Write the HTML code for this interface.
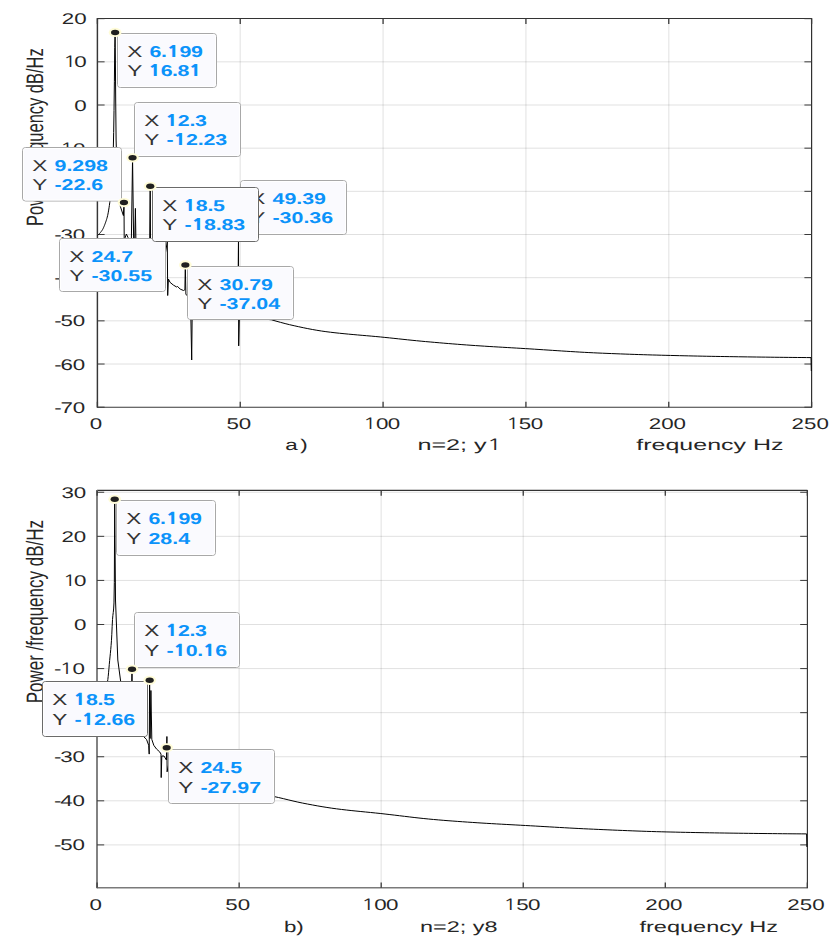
<!DOCTYPE html>
<html><head><meta charset="utf-8"><title>PSD plots</title>
<style>html,body{margin:0;padding:0;background:#fff;} svg{display:block;} text{font-family:'Liberation Sans', Arial, sans-serif;text-rendering:geometricPrecision;}</style>
</head><body>
<svg width="840" height="952" viewBox="0 0 840 952">
<rect width="840" height="952" fill="#fff"/>
<line x1="240.24" y1="18.50" x2="240.24" y2="407.20" stroke="#000" stroke-opacity="0.085" stroke-width="1.4"/>
<line x1="383.08" y1="18.50" x2="383.08" y2="407.20" stroke="#000" stroke-opacity="0.085" stroke-width="1.4"/>
<line x1="525.92" y1="18.50" x2="525.92" y2="407.20" stroke="#000" stroke-opacity="0.085" stroke-width="1.4"/>
<line x1="668.76" y1="18.50" x2="668.76" y2="407.20" stroke="#000" stroke-opacity="0.085" stroke-width="1.4"/>
<line x1="97.40" y1="61.83" x2="811.60" y2="61.83" stroke="#000" stroke-opacity="0.12" stroke-width="1"/>
<line x1="97.40" y1="105.00" x2="811.60" y2="105.00" stroke="#000" stroke-opacity="0.12" stroke-width="1"/>
<line x1="97.40" y1="148.17" x2="811.60" y2="148.17" stroke="#000" stroke-opacity="0.12" stroke-width="1"/>
<line x1="97.40" y1="191.34" x2="811.60" y2="191.34" stroke="#000" stroke-opacity="0.12" stroke-width="1"/>
<line x1="97.40" y1="234.51" x2="811.60" y2="234.51" stroke="#000" stroke-opacity="0.12" stroke-width="1"/>
<line x1="97.40" y1="277.68" x2="811.60" y2="277.68" stroke="#000" stroke-opacity="0.12" stroke-width="1"/>
<line x1="97.40" y1="320.85" x2="811.60" y2="320.85" stroke="#000" stroke-opacity="0.12" stroke-width="1"/>
<line x1="97.40" y1="364.02" x2="811.60" y2="364.02" stroke="#000" stroke-opacity="0.12" stroke-width="1"/>
<line x1="97.40" y1="18.50" x2="811.60" y2="18.50" stroke="#333333" stroke-width="1.1"/>
<line x1="97.40" y1="407.20" x2="811.60" y2="407.20" stroke="#383838" stroke-width="1.05"/>
<line x1="97.40" y1="18.00" x2="97.40" y2="407.70" stroke="#363636" stroke-width="1.45"/>
<line x1="811.60" y1="18.00" x2="811.60" y2="407.70" stroke="#303030" stroke-width="1.2"/>
<line x1="97.40" y1="18.50" x2="97.40" y2="23.90" stroke="#3a3a3a" stroke-width="1.3"/>
<line x1="97.40" y1="401.80" x2="97.40" y2="407.20" stroke="#3a3a3a" stroke-width="1.3"/>
<line x1="240.24" y1="18.50" x2="240.24" y2="23.90" stroke="#3a3a3a" stroke-width="1.3"/>
<line x1="240.24" y1="401.80" x2="240.24" y2="407.20" stroke="#3a3a3a" stroke-width="1.3"/>
<line x1="383.08" y1="18.50" x2="383.08" y2="23.90" stroke="#3a3a3a" stroke-width="1.3"/>
<line x1="383.08" y1="401.80" x2="383.08" y2="407.20" stroke="#3a3a3a" stroke-width="1.3"/>
<line x1="525.92" y1="18.50" x2="525.92" y2="23.90" stroke="#3a3a3a" stroke-width="1.3"/>
<line x1="525.92" y1="401.80" x2="525.92" y2="407.20" stroke="#3a3a3a" stroke-width="1.3"/>
<line x1="668.76" y1="18.50" x2="668.76" y2="23.90" stroke="#3a3a3a" stroke-width="1.3"/>
<line x1="668.76" y1="401.80" x2="668.76" y2="407.20" stroke="#3a3a3a" stroke-width="1.3"/>
<line x1="811.60" y1="18.50" x2="811.60" y2="23.90" stroke="#3a3a3a" stroke-width="1.3"/>
<line x1="811.60" y1="401.80" x2="811.60" y2="407.20" stroke="#3a3a3a" stroke-width="1.3"/>
<line x1="97.40" y1="18.66" x2="104.60" y2="18.66" stroke="#3a3a3a" stroke-width="1.0"/>
<line x1="804.40" y1="18.66" x2="811.60" y2="18.66" stroke="#3a3a3a" stroke-width="1.0"/>
<line x1="97.40" y1="61.83" x2="104.60" y2="61.83" stroke="#3a3a3a" stroke-width="1.0"/>
<line x1="804.40" y1="61.83" x2="811.60" y2="61.83" stroke="#3a3a3a" stroke-width="1.0"/>
<line x1="97.40" y1="105.00" x2="104.60" y2="105.00" stroke="#3a3a3a" stroke-width="1.0"/>
<line x1="804.40" y1="105.00" x2="811.60" y2="105.00" stroke="#3a3a3a" stroke-width="1.0"/>
<line x1="97.40" y1="148.17" x2="104.60" y2="148.17" stroke="#3a3a3a" stroke-width="1.0"/>
<line x1="804.40" y1="148.17" x2="811.60" y2="148.17" stroke="#3a3a3a" stroke-width="1.0"/>
<line x1="97.40" y1="191.34" x2="104.60" y2="191.34" stroke="#3a3a3a" stroke-width="1.0"/>
<line x1="804.40" y1="191.34" x2="811.60" y2="191.34" stroke="#3a3a3a" stroke-width="1.0"/>
<line x1="97.40" y1="234.51" x2="104.60" y2="234.51" stroke="#3a3a3a" stroke-width="1.0"/>
<line x1="804.40" y1="234.51" x2="811.60" y2="234.51" stroke="#3a3a3a" stroke-width="1.0"/>
<line x1="97.40" y1="277.68" x2="104.60" y2="277.68" stroke="#3a3a3a" stroke-width="1.0"/>
<line x1="804.40" y1="277.68" x2="811.60" y2="277.68" stroke="#3a3a3a" stroke-width="1.0"/>
<line x1="97.40" y1="320.85" x2="104.60" y2="320.85" stroke="#3a3a3a" stroke-width="1.0"/>
<line x1="804.40" y1="320.85" x2="811.60" y2="320.85" stroke="#3a3a3a" stroke-width="1.0"/>
<line x1="97.40" y1="364.02" x2="104.60" y2="364.02" stroke="#3a3a3a" stroke-width="1.0"/>
<line x1="804.40" y1="364.02" x2="811.60" y2="364.02" stroke="#3a3a3a" stroke-width="1.0"/>
<line x1="97.40" y1="407.19" x2="104.60" y2="407.19" stroke="#3a3a3a" stroke-width="1.0"/>
<line x1="804.40" y1="407.19" x2="811.60" y2="407.19" stroke="#3a3a3a" stroke-width="1.0"/>
<text transform="translate(43.00,137.10) rotate(-90) scale(1,1.53)" font-size="15.5" text-anchor="middle" fill="#262626" textLength="177.6" lengthAdjust="spacingAndGlyphs">Power /frequency dB/Hz</text>
<text transform="translate(86.60,24.26) scale(1.44,1)" font-size="15.5" text-anchor="end" fill="#262626">20</text>
<text transform="translate(86.60,67.43) scale(1.44,1)" font-size="15.5" text-anchor="end" fill="#262626" textLength="16.44" lengthAdjust="spacing"><tspan font-family="NanumGothic, 'Liberation Sans', sans-serif">1</tspan>0</text>
<text transform="translate(86.60,110.60) scale(1.44,1)" font-size="15.5" text-anchor="end" fill="#262626">0</text>
<text transform="translate(85.30,153.77) scale(1.44,1)" font-size="15.5" text-anchor="end" fill="#262626" textLength="21.60" lengthAdjust="spacing">-<tspan dx="-0.80"><tspan font-family="NanumGothic, 'Liberation Sans', sans-serif">1</tspan>0</tspan></text>
<text transform="translate(85.30,196.94) scale(1.44,1)" font-size="15.5" text-anchor="end" fill="#262626">-<tspan dx="-0.80">20</tspan></text>
<text transform="translate(85.30,240.11) scale(1.44,1)" font-size="15.5" text-anchor="end" fill="#262626">-<tspan dx="-0.80">30</tspan></text>
<text transform="translate(85.30,283.28) scale(1.44,1)" font-size="15.5" text-anchor="end" fill="#262626">-<tspan dx="-0.80">40</tspan></text>
<text transform="translate(85.30,326.45) scale(1.44,1)" font-size="15.5" text-anchor="end" fill="#262626">-<tspan dx="-0.80">50</tspan></text>
<text transform="translate(85.30,369.62) scale(1.44,1)" font-size="15.5" text-anchor="end" fill="#262626">-<tspan dx="-0.80">60</tspan></text>
<text transform="translate(85.30,412.79) scale(1.44,1)" font-size="15.5" text-anchor="end" fill="#262626">-<tspan dx="-0.80">70</tspan></text>
<text transform="translate(96.00,429.00) scale(1.44,1)" font-size="15.5" text-anchor="middle" fill="#262626">0</text>
<text transform="translate(238.84,429.00) scale(1.44,1)" font-size="15.5" text-anchor="middle" fill="#262626">50</text>
<text transform="translate(381.68,429.00) scale(1.44,1)" font-size="15.5" text-anchor="middle" fill="#262626" textLength="25.86" lengthAdjust="spacing"><tspan font-family="NanumGothic, 'Liberation Sans', sans-serif">1</tspan>00</text>
<text transform="translate(524.52,429.00) scale(1.44,1)" font-size="15.5" text-anchor="middle" fill="#262626" textLength="25.86" lengthAdjust="spacing"><tspan font-family="NanumGothic, 'Liberation Sans', sans-serif">1</tspan>50</text>
<text transform="translate(667.36,429.00) scale(1.44,1)" font-size="15.5" text-anchor="middle" fill="#262626">200</text>
<text transform="translate(810.20,429.00) scale(1.44,1)" font-size="15.5" text-anchor="middle" fill="#262626">250</text>
<text transform="translate(285.20,449.80) scale(1.44,1)" font-size="15.5" fill="#262626" textLength="15.69" lengthAdjust="spacing">a)</text>
<text transform="translate(417.40,449.90) scale(1.44,1)" font-size="15.5" fill="#262626" textLength="58.75" lengthAdjust="spacingAndGlyphs">n=2; y<tspan font-family="NanumGothic, 'Liberation Sans', sans-serif">1</tspan></text>
<text transform="translate(636.30,449.50) scale(1.44,1)" font-size="15.5" fill="#262626" textLength="102.22" lengthAdjust="spacingAndGlyphs">frequency Hz</text>
<path d="M97.60,235.50 L97.96,235.17 L98.31,234.83 L98.67,234.47 L99.03,234.09 L99.39,233.70 L99.74,233.30 L100.10,232.88 L100.46,232.46 L100.81,232.03 L101.17,231.59 L101.53,231.12 L101.89,230.62 L102.24,230.08 L102.60,229.50 L102.96,228.85 L103.31,228.13 L103.67,227.34 L104.03,226.49 L104.39,225.60 L104.74,224.68 L105.10,223.73 L105.46,222.77 L105.81,221.79 L106.17,220.75 L106.53,219.64 L106.89,218.45 L107.24,217.14 L107.60,215.70 L107.96,214.06 L108.31,212.19 L108.67,210.10 L109.03,207.82 L109.39,205.37 L109.74,202.76 L110.10,200.02 L110.46,197.05 L110.81,193.76 L111.17,190.07 L111.53,185.90 L111.89,180.98 L112.24,174.97 L112.60,168.00 L112.96,160.04 L113.31,149.50 L113.67,132.40 L114.03,110.52 L114.39,81.77 L114.74,47.41 L115.10,32.40 L115.40,60.00 L115.70,100.00 L116.10,140.00 L116.80,165.00 L118.00,185.00 L119.40,199.00 L120.40,206.60 L123.40,215.60 L124.00,202.60 L124.20,237.80 L124.80,238.50 L126.40,234.00 L128.00,237.50 L129.50,240.00 L131.40,238.00 L132.55,157.90 L133.60,238.00 L134.60,246.00 L135.40,208.40 L136.00,246.00 L140.00,252.00 L146.00,248.00 L149.70,240.00 L150.20,186.30 L150.50,240.00 L152.00,246.00 L158.00,250.00 L164.00,262.00 L167.30,241.50 L167.70,295.50 L168.40,279.00 L170.10,282.40 L173.40,285.10 L176.80,287.10 L177.50,286.40 L180.20,289.10 L183.50,290.50 L184.90,289.80 L185.30,265.10 L185.90,294.50 L188.00,296.00 L190.50,300.00 L191.70,360.00 L192.30,302.00 L210.00,306.50 L230.00,312.00 L237.80,314.20 L238.50,236.00 L238.70,345.90 L239.40,316.00 L255.00,318.00 L271.50,319.80 L276.03,321.11 L280.57,322.37 L285.10,323.57 L289.63,324.69 L294.17,325.73 L298.70,326.72 L303.24,327.69 L307.77,328.61 L312.30,329.48 L316.84,330.28 L321.37,331.01 L325.90,331.65 L330.44,332.23 L334.97,332.75 L339.50,333.24 L344.04,333.70 L348.57,334.13 L353.11,334.54 L357.64,334.94 L362.17,335.33 L366.71,335.72 L371.24,336.12 L375.77,336.53 L380.31,336.95 L384.84,337.41 L389.37,337.87 L393.91,338.35 L398.44,338.83 L402.97,339.32 L407.51,339.80 L412.04,340.27 L416.58,340.72 L421.11,341.16 L425.64,341.58 L430.18,341.98 L434.71,342.38 L439.24,342.78 L443.78,343.16 L448.31,343.54 L452.84,343.90 L457.38,344.26 L461.91,344.61 L466.45,344.94 L470.98,345.27 L475.51,345.59 L480.05,345.89 L484.58,346.18 L489.11,346.47 L493.65,346.74 L498.18,347.01 L502.71,347.28 L507.25,347.54 L511.78,347.81 L516.32,348.07 L520.85,348.34 L525.38,348.61 L529.92,348.89 L534.45,349.18 L538.98,349.47 L543.52,349.77 L548.05,350.07 L552.58,350.37 L557.12,350.67 L561.65,350.96 L566.18,351.25 L570.72,351.54 L575.25,351.81 L579.79,352.08 L584.32,352.33 L588.85,352.57 L593.39,352.79 L597.92,353.00 L602.45,353.20 L606.99,353.38 L611.52,353.57 L616.05,353.74 L620.59,353.92 L625.12,354.08 L629.66,354.24 L634.19,354.40 L638.72,354.55 L643.26,354.69 L647.79,354.83 L652.32,354.97 L656.86,355.09 L661.39,355.22 L665.92,355.34 L670.46,355.45 L674.99,355.56 L679.53,355.67 L684.06,355.77 L688.59,355.87 L693.13,355.97 L697.66,356.07 L702.19,356.16 L706.73,356.25 L711.26,356.33 L715.79,356.41 L720.33,356.49 L724.86,356.56 L729.39,356.64 L733.93,356.70 L738.46,356.77 L743.00,356.84 L747.53,356.90 L752.06,356.96 L756.60,357.03 L761.13,357.08 L765.66,357.14 L770.20,357.20 L774.73,357.25 L779.26,357.31 L783.80,357.35 L788.33,357.40 L792.87,357.45 L797.40,357.49 L801.93,357.53 L806.47,357.57 L811.00,357.60 L811.30,371.00" fill="none" stroke="#000" stroke-width="1.0" stroke-linejoin="round"/>
<rect x="117.50" y="33.50" width="99.00" height="54.00" rx="3" ry="3" fill="#fafafe" stroke="#a8a8a8" stroke-width="1"/>
<rect x="118.50" y="34.50" width="97.00" height="52.00" rx="2" ry="2" fill="none" stroke="#ffffff" stroke-width="1"/>
<text transform="translate(127.30,56.50) scale(1.45,1)" font-size="15.6" fill="#333333">X</text>
<text transform="translate(127.30,75.60) scale(1.45,1)" font-size="15.6" fill="#333333">Y</text>
<text transform="translate(149.50,56.50) scale(1.37,1)" font-size="15.6" fill="#0b93fa" font-weight="bold" textLength="39.04" lengthAdjust="spacing">6.<tspan font-family="NanumGothic, 'Liberation Sans', sans-serif" font-weight="800">1</tspan>99</text>
<text transform="translate(148.30,75.60) scale(1.37,1)" font-size="15.6" fill="#0b93fa" font-weight="bold" textLength="39.04" lengthAdjust="spacing"><tspan font-family="NanumGothic, 'Liberation Sans', sans-serif" font-weight="800">1</tspan>6.8<tspan font-family="NanumGothic, 'Liberation Sans', sans-serif" font-weight="800">1</tspan></text>
<ellipse cx="115.11" cy="32.43" rx="6.4" ry="4.6" fill="#fffcd8"/>
<ellipse cx="115.11" cy="32.43" rx="4.1" ry="2.75" fill="#202020"/>
<rect x="134.50" y="102.50" width="106.00" height="54.00" rx="3" ry="3" fill="#fafafe" stroke="#a8a8a8" stroke-width="1"/>
<rect x="135.50" y="103.50" width="104.00" height="52.00" rx="2" ry="2" fill="none" stroke="#ffffff" stroke-width="1"/>
<text transform="translate(144.30,125.50) scale(1.45,1)" font-size="15.6" fill="#333333">X</text>
<text transform="translate(144.30,144.60) scale(1.45,1)" font-size="15.6" fill="#333333">Y</text>
<text transform="translate(165.30,125.50) scale(1.37,1)" font-size="15.6" fill="#0b93fa" font-weight="bold" textLength="30.36" lengthAdjust="spacing"><tspan font-family="NanumGothic, 'Liberation Sans', sans-serif" font-weight="800">1</tspan>2.3</text>
<text transform="translate(166.50,144.60) scale(1.37,1)" font-size="15.6" fill="#0b93fa" font-weight="bold" textLength="44.23" lengthAdjust="spacing">-<tspan font-family="NanumGothic, 'Liberation Sans', sans-serif" font-weight="800">1</tspan>2.23</text>
<ellipse cx="132.54" cy="157.80" rx="6.4" ry="4.6" fill="#fffcd8"/>
<ellipse cx="132.54" cy="157.80" rx="4.1" ry="2.75" fill="#202020"/>
<rect x="22.50" y="147.50" width="99.00" height="53.50" rx="3" ry="3" fill="#fafafe" stroke="#a8a8a8" stroke-width="1"/>
<rect x="23.50" y="148.50" width="97.00" height="51.50" rx="2" ry="2" fill="none" stroke="#ffffff" stroke-width="1"/>
<text transform="translate(32.30,170.50) scale(1.45,1)" font-size="15.6" fill="#333333">X</text>
<text transform="translate(32.30,189.60) scale(1.45,1)" font-size="15.6" fill="#333333">Y</text>
<text transform="translate(54.50,170.50) scale(1.37,1)" font-size="15.6" fill="#0b93fa" font-weight="bold">9.298</text>
<text transform="translate(54.50,189.60) scale(1.37,1)" font-size="15.6" fill="#0b93fa" font-weight="bold">-22.6</text>
<ellipse cx="123.96" cy="202.56" rx="6.4" ry="4.6" fill="#fffcd8"/>
<ellipse cx="123.96" cy="202.56" rx="4.1" ry="2.75" fill="#202020"/>
<rect x="240.50" y="180.50" width="106.00" height="54.00" rx="3" ry="3" fill="#fafafe" stroke="#a8a8a8" stroke-width="1"/>
<rect x="241.50" y="181.50" width="104.00" height="52.00" rx="2" ry="2" fill="none" stroke="#ffffff" stroke-width="1"/>
<text transform="translate(250.30,203.50) scale(1.45,1)" font-size="15.6" fill="#333333">X</text>
<text transform="translate(250.30,222.60) scale(1.45,1)" font-size="15.6" fill="#333333">Y</text>
<text transform="translate(272.50,203.50) scale(1.37,1)" font-size="15.6" fill="#0b93fa" font-weight="bold">49.39</text>
<text transform="translate(272.50,222.60) scale(1.37,1)" font-size="15.6" fill="#0b93fa" font-weight="bold">-30.36</text>
<ellipse cx="238.50" cy="236.06" rx="6.4" ry="4.6" fill="#fffcd8"/>
<ellipse cx="238.50" cy="236.06" rx="4.1" ry="2.75" fill="#202020"/>
<rect x="59.50" y="238.50" width="106.00" height="53.00" rx="3" ry="3" fill="#fafafe" stroke="#a8a8a8" stroke-width="1"/>
<rect x="60.50" y="239.50" width="104.00" height="51.00" rx="2" ry="2" fill="none" stroke="#ffffff" stroke-width="1"/>
<text transform="translate(69.30,261.50) scale(1.45,1)" font-size="15.6" fill="#333333">X</text>
<text transform="translate(69.30,280.60) scale(1.45,1)" font-size="15.6" fill="#333333">Y</text>
<text transform="translate(91.50,261.50) scale(1.37,1)" font-size="15.6" fill="#0b93fa" font-weight="bold">24.7</text>
<text transform="translate(91.50,280.60) scale(1.37,1)" font-size="15.6" fill="#0b93fa" font-weight="bold">-30.55</text>
<ellipse cx="167.96" cy="236.88" rx="6.4" ry="4.6" fill="#fffcd8"/>
<ellipse cx="167.96" cy="236.88" rx="4.1" ry="2.75" fill="#202020"/>
<rect x="152.50" y="187.50" width="106.00" height="54.00" rx="3" ry="3" fill="#fafafe" stroke="#6a6a6a" stroke-width="1"/>
<rect x="153.50" y="188.50" width="104.00" height="52.00" rx="2" ry="2" fill="none" stroke="#ffffff" stroke-width="1"/>
<text transform="translate(162.30,210.50) scale(1.45,1)" font-size="15.6" fill="#333333">X</text>
<text transform="translate(162.30,229.60) scale(1.45,1)" font-size="15.6" fill="#333333">Y</text>
<text transform="translate(183.30,210.50) scale(1.37,1)" font-size="15.6" fill="#0b93fa" font-weight="bold" textLength="30.36" lengthAdjust="spacing"><tspan font-family="NanumGothic, 'Liberation Sans', sans-serif" font-weight="800">1</tspan>8.5</text>
<text transform="translate(184.50,229.60) scale(1.37,1)" font-size="15.6" fill="#0b93fa" font-weight="bold" textLength="44.23" lengthAdjust="spacing">-<tspan font-family="NanumGothic, 'Liberation Sans', sans-serif" font-weight="800">1</tspan>8.83</text>
<ellipse cx="150.25" cy="186.29" rx="6.4" ry="4.6" fill="#fffcd8"/>
<ellipse cx="150.25" cy="186.29" rx="4.1" ry="2.75" fill="#202020"/>
<rect x="187.50" y="266.50" width="106.00" height="53.00" rx="3" ry="3" fill="#fafafe" stroke="#a8a8a8" stroke-width="1"/>
<rect x="188.50" y="267.50" width="104.00" height="51.00" rx="2" ry="2" fill="none" stroke="#ffffff" stroke-width="1"/>
<text transform="translate(197.30,289.50) scale(1.45,1)" font-size="15.6" fill="#333333">X</text>
<text transform="translate(197.30,308.60) scale(1.45,1)" font-size="15.6" fill="#333333">Y</text>
<text transform="translate(219.50,289.50) scale(1.37,1)" font-size="15.6" fill="#0b93fa" font-weight="bold">30.79</text>
<text transform="translate(219.50,308.60) scale(1.37,1)" font-size="15.6" fill="#0b93fa" font-weight="bold">-37.04</text>
<ellipse cx="185.36" cy="264.90" rx="6.4" ry="4.6" fill="#fffcd8"/>
<ellipse cx="185.36" cy="264.90" rx="4.1" ry="2.75" fill="#202020"/>
<line x1="239.15" y1="490.40" x2="239.15" y2="887.80" stroke="#000" stroke-opacity="0.085" stroke-width="1.4"/>
<line x1="381.20" y1="490.40" x2="381.20" y2="887.80" stroke="#000" stroke-opacity="0.085" stroke-width="1.4"/>
<line x1="523.25" y1="490.40" x2="523.25" y2="887.80" stroke="#000" stroke-opacity="0.085" stroke-width="1.4"/>
<line x1="665.30" y1="490.40" x2="665.30" y2="887.80" stroke="#000" stroke-opacity="0.085" stroke-width="1.4"/>
<line x1="97.00" y1="492.26" x2="807.40" y2="492.26" stroke="#000" stroke-opacity="0.12" stroke-width="1"/>
<line x1="97.00" y1="536.34" x2="807.40" y2="536.34" stroke="#000" stroke-opacity="0.12" stroke-width="1"/>
<line x1="97.00" y1="580.42" x2="807.40" y2="580.42" stroke="#000" stroke-opacity="0.12" stroke-width="1"/>
<line x1="97.00" y1="624.50" x2="807.40" y2="624.50" stroke="#000" stroke-opacity="0.12" stroke-width="1"/>
<line x1="97.00" y1="668.58" x2="807.40" y2="668.58" stroke="#000" stroke-opacity="0.12" stroke-width="1"/>
<line x1="97.00" y1="712.66" x2="807.40" y2="712.66" stroke="#000" stroke-opacity="0.12" stroke-width="1"/>
<line x1="97.00" y1="756.74" x2="807.40" y2="756.74" stroke="#000" stroke-opacity="0.12" stroke-width="1"/>
<line x1="97.00" y1="800.82" x2="807.40" y2="800.82" stroke="#000" stroke-opacity="0.12" stroke-width="1"/>
<line x1="97.00" y1="844.90" x2="807.40" y2="844.90" stroke="#000" stroke-opacity="0.12" stroke-width="1"/>
<line x1="97.00" y1="490.40" x2="807.40" y2="490.40" stroke="#333333" stroke-width="1.15"/>
<line x1="97.00" y1="887.80" x2="807.40" y2="887.80" stroke="#7a7a7a" stroke-width="1.6"/>
<line x1="97.00" y1="489.90" x2="97.00" y2="888.30" stroke="#7c7c7c" stroke-width="1.9"/>
<line x1="807.40" y1="489.90" x2="807.40" y2="888.30" stroke="#333333" stroke-width="1.15"/>
<line x1="97.10" y1="490.40" x2="97.10" y2="495.80" stroke="#3a3a3a" stroke-width="1.3"/>
<line x1="97.10" y1="882.40" x2="97.10" y2="887.80" stroke="#3a3a3a" stroke-width="1.3"/>
<line x1="239.15" y1="490.40" x2="239.15" y2="495.80" stroke="#3a3a3a" stroke-width="1.3"/>
<line x1="239.15" y1="882.40" x2="239.15" y2="887.80" stroke="#3a3a3a" stroke-width="1.3"/>
<line x1="381.20" y1="490.40" x2="381.20" y2="495.80" stroke="#3a3a3a" stroke-width="1.3"/>
<line x1="381.20" y1="882.40" x2="381.20" y2="887.80" stroke="#3a3a3a" stroke-width="1.3"/>
<line x1="523.25" y1="490.40" x2="523.25" y2="495.80" stroke="#3a3a3a" stroke-width="1.3"/>
<line x1="523.25" y1="882.40" x2="523.25" y2="887.80" stroke="#3a3a3a" stroke-width="1.3"/>
<line x1="665.30" y1="490.40" x2="665.30" y2="495.80" stroke="#3a3a3a" stroke-width="1.3"/>
<line x1="665.30" y1="882.40" x2="665.30" y2="887.80" stroke="#3a3a3a" stroke-width="1.3"/>
<line x1="807.35" y1="490.40" x2="807.35" y2="495.80" stroke="#3a3a3a" stroke-width="1.3"/>
<line x1="807.35" y1="882.40" x2="807.35" y2="887.80" stroke="#3a3a3a" stroke-width="1.3"/>
<line x1="97.00" y1="492.26" x2="104.20" y2="492.26" stroke="#3a3a3a" stroke-width="1.0"/>
<line x1="800.20" y1="492.26" x2="807.40" y2="492.26" stroke="#3a3a3a" stroke-width="1.0"/>
<line x1="97.00" y1="536.34" x2="104.20" y2="536.34" stroke="#3a3a3a" stroke-width="1.0"/>
<line x1="800.20" y1="536.34" x2="807.40" y2="536.34" stroke="#3a3a3a" stroke-width="1.0"/>
<line x1="97.00" y1="580.42" x2="104.20" y2="580.42" stroke="#3a3a3a" stroke-width="1.0"/>
<line x1="800.20" y1="580.42" x2="807.40" y2="580.42" stroke="#3a3a3a" stroke-width="1.0"/>
<line x1="97.00" y1="624.50" x2="104.20" y2="624.50" stroke="#3a3a3a" stroke-width="1.0"/>
<line x1="800.20" y1="624.50" x2="807.40" y2="624.50" stroke="#3a3a3a" stroke-width="1.0"/>
<line x1="97.00" y1="668.58" x2="104.20" y2="668.58" stroke="#3a3a3a" stroke-width="1.0"/>
<line x1="800.20" y1="668.58" x2="807.40" y2="668.58" stroke="#3a3a3a" stroke-width="1.0"/>
<line x1="97.00" y1="712.66" x2="104.20" y2="712.66" stroke="#3a3a3a" stroke-width="1.0"/>
<line x1="800.20" y1="712.66" x2="807.40" y2="712.66" stroke="#3a3a3a" stroke-width="1.0"/>
<line x1="97.00" y1="756.74" x2="104.20" y2="756.74" stroke="#3a3a3a" stroke-width="1.0"/>
<line x1="800.20" y1="756.74" x2="807.40" y2="756.74" stroke="#3a3a3a" stroke-width="1.0"/>
<line x1="97.00" y1="800.82" x2="104.20" y2="800.82" stroke="#3a3a3a" stroke-width="1.0"/>
<line x1="800.20" y1="800.82" x2="807.40" y2="800.82" stroke="#3a3a3a" stroke-width="1.0"/>
<line x1="97.00" y1="844.90" x2="104.20" y2="844.90" stroke="#3a3a3a" stroke-width="1.0"/>
<line x1="800.20" y1="844.90" x2="807.40" y2="844.90" stroke="#3a3a3a" stroke-width="1.0"/>
<text transform="translate(43.00,611.65) rotate(-90) scale(1,1.53)" font-size="15.5" text-anchor="middle" fill="#262626" textLength="183.3" lengthAdjust="spacingAndGlyphs">Power /frequency dB/Hz</text>
<text transform="translate(86.30,497.76) scale(1.44,1)" font-size="15.5" text-anchor="end" fill="#262626">30</text>
<text transform="translate(86.30,541.84) scale(1.44,1)" font-size="15.5" text-anchor="end" fill="#262626">20</text>
<text transform="translate(86.30,585.92) scale(1.44,1)" font-size="15.5" text-anchor="end" fill="#262626" textLength="16.44" lengthAdjust="spacing"><tspan font-family="NanumGothic, 'Liberation Sans', sans-serif">1</tspan>0</text>
<text transform="translate(86.30,630.00) scale(1.44,1)" font-size="15.5" text-anchor="end" fill="#262626">0</text>
<text transform="translate(85.00,674.08) scale(1.44,1)" font-size="15.5" text-anchor="end" fill="#262626" textLength="21.60" lengthAdjust="spacing">-<tspan dx="-0.80"><tspan font-family="NanumGothic, 'Liberation Sans', sans-serif">1</tspan>0</tspan></text>
<text transform="translate(85.00,718.16) scale(1.44,1)" font-size="15.5" text-anchor="end" fill="#262626">-<tspan dx="-0.80">20</tspan></text>
<text transform="translate(85.00,762.24) scale(1.44,1)" font-size="15.5" text-anchor="end" fill="#262626">-<tspan dx="-0.80">30</tspan></text>
<text transform="translate(85.00,806.32) scale(1.44,1)" font-size="15.5" text-anchor="end" fill="#262626">-<tspan dx="-0.80">40</tspan></text>
<text transform="translate(85.00,850.40) scale(1.44,1)" font-size="15.5" text-anchor="end" fill="#262626">-<tspan dx="-0.80">50</tspan></text>
<text transform="translate(95.70,910.20) scale(1.44,1)" font-size="15.5" text-anchor="middle" fill="#262626">0</text>
<text transform="translate(237.75,910.20) scale(1.44,1)" font-size="15.5" text-anchor="middle" fill="#262626">50</text>
<text transform="translate(379.80,910.20) scale(1.44,1)" font-size="15.5" text-anchor="middle" fill="#262626" textLength="25.86" lengthAdjust="spacing"><tspan font-family="NanumGothic, 'Liberation Sans', sans-serif">1</tspan>00</text>
<text transform="translate(521.85,910.20) scale(1.44,1)" font-size="15.5" text-anchor="middle" fill="#262626" textLength="25.86" lengthAdjust="spacing"><tspan font-family="NanumGothic, 'Liberation Sans', sans-serif">1</tspan>50</text>
<text transform="translate(663.90,910.20) scale(1.44,1)" font-size="15.5" text-anchor="middle" fill="#262626">200</text>
<text transform="translate(805.95,910.20) scale(1.44,1)" font-size="15.5" text-anchor="middle" fill="#262626">250</text>
<text transform="translate(284.00,931.90) scale(1.44,1)" font-size="15.5" fill="#262626" textLength="13.75" lengthAdjust="spacing">b)</text>
<text transform="translate(420.00,931.70) scale(1.44,1)" font-size="15.5" fill="#262626" textLength="53.89" lengthAdjust="spacingAndGlyphs">n=2; y8</text>
<text transform="translate(639.50,931.90) scale(1.44,1)" font-size="15.5" fill="#262626" textLength="96.25" lengthAdjust="spacingAndGlyphs">frequency Hz</text>
<path d="M97.00,712.00 L97.36,711.43 L97.72,710.82 L98.08,710.15 L98.44,709.45 L98.81,708.70 L99.17,707.92 L99.53,707.11 L99.89,706.26 L100.25,705.38 L100.61,704.42 L100.97,703.41 L101.33,702.34 L101.70,701.22 L102.06,700.08 L102.42,698.91 L102.78,697.72 L103.14,696.53 L103.50,695.28 L103.86,693.97 L104.22,692.63 L104.59,691.28 L104.95,689.95 L105.31,688.66 L105.67,687.45 L106.03,686.41 L106.39,685.45 L106.75,684.42 L107.11,683.22 L107.48,681.72 L107.84,679.54 L108.20,676.48 L108.56,672.80 L108.92,668.76 L109.28,664.60 L109.64,660.60 L110.00,656.91 L110.37,653.34 L110.73,649.62 L111.09,645.50 L111.45,640.74 L111.81,634.29 L112.17,626.31 L112.53,619.50 L112.89,615.38 L113.26,612.50 L113.62,608.98 L113.98,602.95 L114.34,582.39 L114.70,499.30 L115.00,540.00 L115.50,600.00 L117.80,660.00 L120.70,681.60 L124.00,700.00 L128.00,710.00 L131.60,690.00 L132.00,669.30 L132.30,700.00 L138.00,725.00 L143.50,736.50 L146.50,739.40 L148.70,745.30 L149.20,754.10 L149.60,680.30 L150.10,738.50 L150.90,690.50 L151.80,739.40 L153.80,745.30 L156.50,749.00 L159.70,751.90 L161.00,754.10 L161.20,777.60 L161.80,756.00 L164.00,756.00 L166.40,760.00 L166.70,747.80 L166.90,736.50 L167.10,771.80 L168.50,765.00 L190.00,778.00 L230.00,788.00 L234.85,788.85 L239.69,789.72 L244.54,790.62 L249.38,791.54 L254.23,792.48 L259.07,793.44 L263.92,794.43 L268.76,795.42 L273.61,796.44 L278.45,797.51 L283.30,798.64 L288.14,799.82 L292.99,800.98 L297.84,802.08 L302.68,803.10 L307.53,804.04 L312.37,804.95 L317.22,805.83 L322.06,806.66 L326.91,807.45 L331.75,808.18 L336.60,808.84 L341.44,809.45 L346.29,810.01 L351.13,810.54 L355.98,811.04 L360.83,811.53 L365.67,812.00 L370.52,812.48 L375.36,812.97 L380.21,813.48 L385.05,814.02 L389.90,814.58 L394.74,815.15 L399.59,815.74 L404.43,816.32 L409.28,816.90 L414.12,817.47 L418.97,818.02 L423.82,818.54 L428.66,819.03 L433.51,819.48 L438.35,819.90 L443.20,820.31 L448.04,820.69 L452.89,821.06 L457.73,821.42 L462.58,821.76 L467.42,822.10 L472.27,822.42 L477.11,822.74 L481.96,823.05 L486.81,823.35 L491.65,823.64 L496.50,823.92 L501.34,824.18 L506.19,824.45 L511.03,824.71 L515.88,824.97 L520.72,825.24 L525.57,825.50 L530.41,825.78 L535.26,826.06 L540.10,826.34 L544.95,826.62 L549.79,826.90 L554.64,827.18 L559.49,827.46 L564.33,827.73 L569.18,828.00 L574.02,828.26 L578.87,828.51 L583.71,828.75 L588.56,828.98 L593.40,829.19 L598.25,829.41 L603.09,829.63 L607.94,829.84 L612.78,830.05 L617.63,830.25 L622.48,830.45 L627.32,830.65 L632.17,830.84 L637.01,831.02 L641.86,831.19 L646.70,831.36 L651.55,831.51 L656.39,831.66 L661.24,831.79 L666.08,831.92 L670.93,832.03 L675.77,832.14 L680.62,832.25 L685.47,832.35 L690.31,832.45 L695.16,832.55 L700.00,832.64 L704.85,832.72 L709.69,832.81 L714.54,832.89 L719.38,832.96 L724.23,833.03 L729.07,833.10 L733.92,833.17 L738.76,833.23 L743.61,833.29 L748.46,833.35 L753.30,833.41 L758.15,833.47 L762.99,833.52 L767.84,833.57 L772.68,833.62 L777.53,833.67 L782.37,833.72 L787.22,833.76 L792.06,833.80 L796.91,833.84 L801.75,833.87 L806.60,833.90 L806.90,847.00" fill="none" stroke="#000" stroke-width="1.0" stroke-linejoin="round"/>
<rect x="116.50" y="500.50" width="99.00" height="55.00" rx="3" ry="3" fill="#fafafe" stroke="#a8a8a8" stroke-width="1"/>
<rect x="117.50" y="501.50" width="97.00" height="53.00" rx="2" ry="2" fill="none" stroke="#ffffff" stroke-width="1"/>
<text transform="translate(126.30,524.00) scale(1.4201762977473067,1)" font-size="15.927599999999998" fill="#333333">X</text>
<text transform="translate(126.30,544.00) scale(1.4201762977473067,1)" font-size="15.927599999999998" fill="#333333">Y</text>
<text transform="translate(148.50,524.00) scale(1.3418217433888346,1)" font-size="15.927599999999998" fill="#0b93fa" font-weight="bold" textLength="39.86" lengthAdjust="spacing">6.<tspan font-family="NanumGothic, 'Liberation Sans', sans-serif" font-weight="800">1</tspan>99</text>
<text transform="translate(148.50,544.00) scale(1.3418217433888346,1)" font-size="15.927599999999998" fill="#0b93fa" font-weight="bold">28.4</text>
<ellipse cx="114.71" cy="499.31" rx="6.4" ry="4.6" fill="#fffcd8"/>
<ellipse cx="114.71" cy="499.31" rx="4.1" ry="2.75" fill="#202020"/>
<rect x="134.50" y="612.50" width="105.00" height="55.00" rx="3" ry="3" fill="#fafafe" stroke="#a8a8a8" stroke-width="1"/>
<rect x="135.50" y="613.50" width="103.00" height="53.00" rx="2" ry="2" fill="none" stroke="#ffffff" stroke-width="1"/>
<text transform="translate(144.30,636.00) scale(1.4201762977473067,1)" font-size="15.927599999999998" fill="#333333">X</text>
<text transform="translate(144.30,656.00) scale(1.4201762977473067,1)" font-size="15.927599999999998" fill="#333333">Y</text>
<text transform="translate(165.30,636.00) scale(1.3418217433888346,1)" font-size="15.927599999999998" fill="#0b93fa" font-weight="bold" textLength="31.00" lengthAdjust="spacing"><tspan font-family="NanumGothic, 'Liberation Sans', sans-serif" font-weight="800">1</tspan>2.3</text>
<text transform="translate(166.50,656.00) scale(1.3418217433888346,1)" font-size="15.927599999999998" fill="#0b93fa" font-weight="bold" textLength="45.16" lengthAdjust="spacing">-<tspan font-family="NanumGothic, 'Liberation Sans', sans-serif" font-weight="800">1</tspan>0.<tspan font-family="NanumGothic, 'Liberation Sans', sans-serif" font-weight="800">1</tspan>6</text>
<ellipse cx="132.04" cy="669.29" rx="6.4" ry="4.6" fill="#fffcd8"/>
<ellipse cx="132.04" cy="669.29" rx="4.1" ry="2.75" fill="#202020"/>
<rect x="42.50" y="681.50" width="105.00" height="55.00" rx="3" ry="3" fill="#fafafe" stroke="#6a6a6a" stroke-width="1"/>
<rect x="43.50" y="682.50" width="103.00" height="53.00" rx="2" ry="2" fill="none" stroke="#ffffff" stroke-width="1"/>
<text transform="translate(52.30,705.00) scale(1.4201762977473067,1)" font-size="15.927599999999998" fill="#333333">X</text>
<text transform="translate(52.30,725.00) scale(1.4201762977473067,1)" font-size="15.927599999999998" fill="#333333">Y</text>
<text transform="translate(73.30,705.00) scale(1.3418217433888346,1)" font-size="15.927599999999998" fill="#0b93fa" font-weight="bold" textLength="31.00" lengthAdjust="spacing"><tspan font-family="NanumGothic, 'Liberation Sans', sans-serif" font-weight="800">1</tspan>8.5</text>
<text transform="translate(74.50,725.00) scale(1.3418217433888346,1)" font-size="15.927599999999998" fill="#0b93fa" font-weight="bold" textLength="45.16" lengthAdjust="spacing">-<tspan font-family="NanumGothic, 'Liberation Sans', sans-serif" font-weight="800">1</tspan>2.66</text>
<ellipse cx="149.66" cy="680.31" rx="6.4" ry="4.6" fill="#fffcd8"/>
<ellipse cx="149.66" cy="680.31" rx="4.1" ry="2.75" fill="#202020"/>
<rect x="168.50" y="749.50" width="106.00" height="54.00" rx="3" ry="3" fill="#fafafe" stroke="#a8a8a8" stroke-width="1"/>
<rect x="169.50" y="750.50" width="104.00" height="52.00" rx="2" ry="2" fill="none" stroke="#ffffff" stroke-width="1"/>
<text transform="translate(178.30,773.00) scale(1.4201762977473067,1)" font-size="15.927599999999998" fill="#333333">X</text>
<text transform="translate(178.30,793.00) scale(1.4201762977473067,1)" font-size="15.927599999999998" fill="#333333">Y</text>
<text transform="translate(200.50,773.00) scale(1.3418217433888346,1)" font-size="15.927599999999998" fill="#0b93fa" font-weight="bold">24.5</text>
<text transform="translate(200.50,793.00) scale(1.3418217433888346,1)" font-size="15.927599999999998" fill="#0b93fa" font-weight="bold">-27.97</text>
<ellipse cx="166.70" cy="747.79" rx="6.4" ry="4.6" fill="#fffcd8"/>
<ellipse cx="166.70" cy="747.79" rx="4.1" ry="2.75" fill="#202020"/>
</svg>
</body></html>
